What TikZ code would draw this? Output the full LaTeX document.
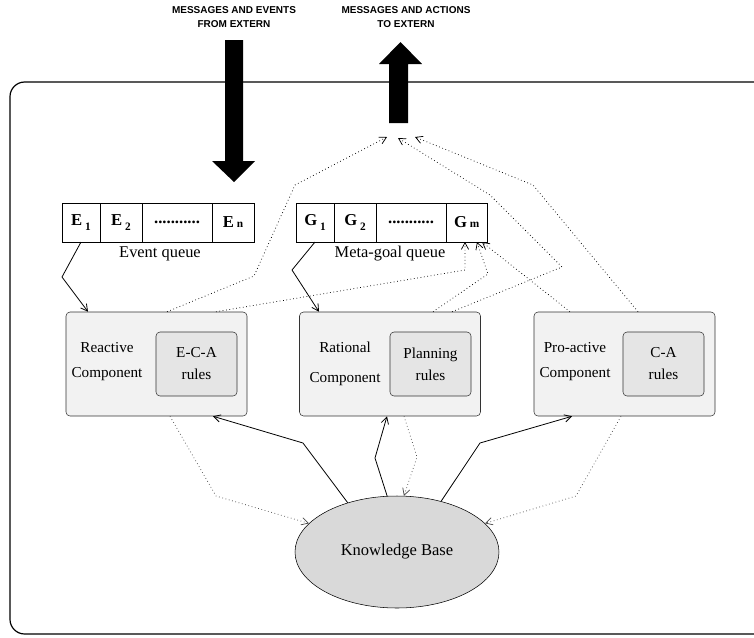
\documentclass[tikz,border=0pt]{standalone}
\usepackage{fontspec}
\setmainfont{Liberation Serif}
\setsansfont{Liberation Sans}
\usepackage{tikz}
\usetikzlibrary{arrows.meta,positioning,shapes.geometric}

\tikzset{
  comp box/.style={draw=black!80,fill=black!5,rounded corners=3pt,
    minimum width=135.75pt,minimum height=78pt,inner sep=0pt},
  rule box/.style={draw=black!80,fill=black!10,rounded corners=3pt,
    minimum width=60.75pt,minimum height=48pt,inner sep=0pt,align=center,
    font=\fontsize{11.4}{16.5}\selectfont},
  comp label/.style={align=center,font=\fontsize{11.4}{18.75}\selectfont},
  cell/.style={draw,fill=white,minimum height=29.25pt,inner sep=0pt,outer sep=0pt,
    font=\bfseries\fontsize{12.5}{14}\selectfont},
  title/.style={align=center,font=\sffamily\bfseries\fontsize{7.5}{10.5}\selectfont},
  flow/.style={->,dotted,line width=0.55pt},
  back flow/.style={->,dotted,line width=0.55pt,draw=black!70},
  feed/.style={->,line width=0.6pt}
}
\newcommand\lowsub[2]{#1\,\raisebox{-3.5pt}{\fontsize{8.5}{10}\selectfont #2}}
\newcommand\flatsub[2]{#1\,{\fontsize{8.5}{10}\selectfont #2}}

\begin{document}
\begin{tikzpicture}[x=0.75pt,y=-0.75pt,>={Straight Barb[length=5pt,width=5.5pt]}]
  \useasboundingbox (0,0) rectangle (754,637);

  % agent frame
  \draw[line width=0.9pt,rounded corners=11pt] (758,82) -- (10,82) -- (10,634) -- (758,634);

  % external messages
  \node[title] (inmsg) at (234,17) {MESSAGES AND EVENTS\\FROM EXTERN};
  \node[title] (outmsg) at (406,17) {MESSAGES AND ACTIONS\\TO EXTERN};
  \fill (225,40) -- (243,40) -- (243,161) -- (255,161) -- (234,182) -- (212,161) -- (225,161) -- cycle;
  \fill (389,123) -- (389,64) -- (379,64) -- (400.5,42) -- (422,64) -- (408,64) -- (408,123) -- cycle;
  \coordinate (out1) at (387,137);
  \coordinate (out2) at (398,138);
  \coordinate (out3) at (415,137);

  % event queue
  \node[cell,minimum width=28.5pt] (e1) at (81,222.5) {\lowsub{E}{1}};
  \node[cell,minimum width=31.5pt,right=0pt of e1] (e2) {\lowsub{E}{2}};
  \node[cell,minimum width=52.5pt,right=0pt of e2] (edots) {...........};
  \node[cell,minimum width=31.5pt,right=0pt of edots] (en) {\flatsub{E}{n}};
  \node[font=\fontsize{12.3}{14}\selectfont] (equeue) at (160,254) {Event queue};

  % meta-goal queue
  \node[cell,minimum width=28.5pt] (g1) at (315,222.5) {\lowsub{G}{1}};
  \node[cell,minimum width=31.5pt,right=0pt of g1] (g2) {\lowsub{G}{2}};
  \node[cell,minimum width=52.5pt,right=0pt of g2] (gdots) {...........};
  \node[cell,minimum width=31pt,right=0pt of gdots] (gm) {\flatsub{G}{m}};
  \node[font=\fontsize{12.3}{14}\selectfont] (gqueue) at (390,254) {Meta-goal queue};

  % components
  \node[comp box] (reactive) at (156.5,364) {};
  \node[comp box] (rational) at (390,364) {};
  \node[comp box] (proactive) at (624.5,364) {};
  \node[comp label] (reactlbl) at (107,362) {Reactive\\Component};
  \node[comp label] (ratlbl) at (345,364) {Rational\\[3.75pt]Component};
  \node[comp label] (prolbl) at (575,362) {Pro-active\\Component};
  \node[rule box] (eca) at (196.5,364) {E-C-A\\rules};
  \node[rule box] (plan) at (430.5,364) {Planning\\rules};
  \node[rule box] (ca) at (663.5,364) {C-A\\rules};

  % knowledge base
  \node[ellipse,draw,fill=black!15,minimum width=153pt,minimum height=84pt,inner sep=0pt,
    font=\fontsize{12.4}{14}\selectfont] (kb) at (397,552) {Knowledge Base};

  % queues to components
  \draw[feed] (e1.south) -- (62,277) -- (88,0 |- reactive.north);
  \draw[feed] (g1.south) -- (292,270) -- (319,0 |- rational.north);

  % components to outside and to meta-goals
  \draw[flow] (167,0 |- reactive.north) -- (254,276) -- (295,185) -- (out1);
  \draw[flow] (216,0 |- reactive.north) -- (465,270) -- (465,0 |- gm.south);
  \draw[flow] (433,0 |- rational.north) -- (488,274) -- (477,0 |- gm.south);
  \draw[flow] (452,0 |- rational.north) -- (562,267) -- (490,195) -- (out2);
  \draw[flow] (570,0 |- proactive.north) -- (482,0 |- gm.south);
  \draw[flow] (638,0 |- proactive.north) -- (533,185) -- (out3);

  % knowledge base links
  \draw[feed] (kb.135) -- (303,443) -- (213,0 |- reactive.south);
  \draw[feed] (kb.100) -- (375,458) -- (387,0 |- rational.south);
  \draw[feed] (kb.49) -- (480,443) -- (572,0 |- proactive.south);
  \draw[back flow] (170,0 |- reactive.south) -- (216,496) -- (kb.162);
  \draw[back flow] (404,0 |- rational.south) -- (417,457) -- (kb.83);
  \draw[back flow] (621,0 |- proactive.south) -- (576,496) -- (kb.18);
\end{tikzpicture}
\end{document}
